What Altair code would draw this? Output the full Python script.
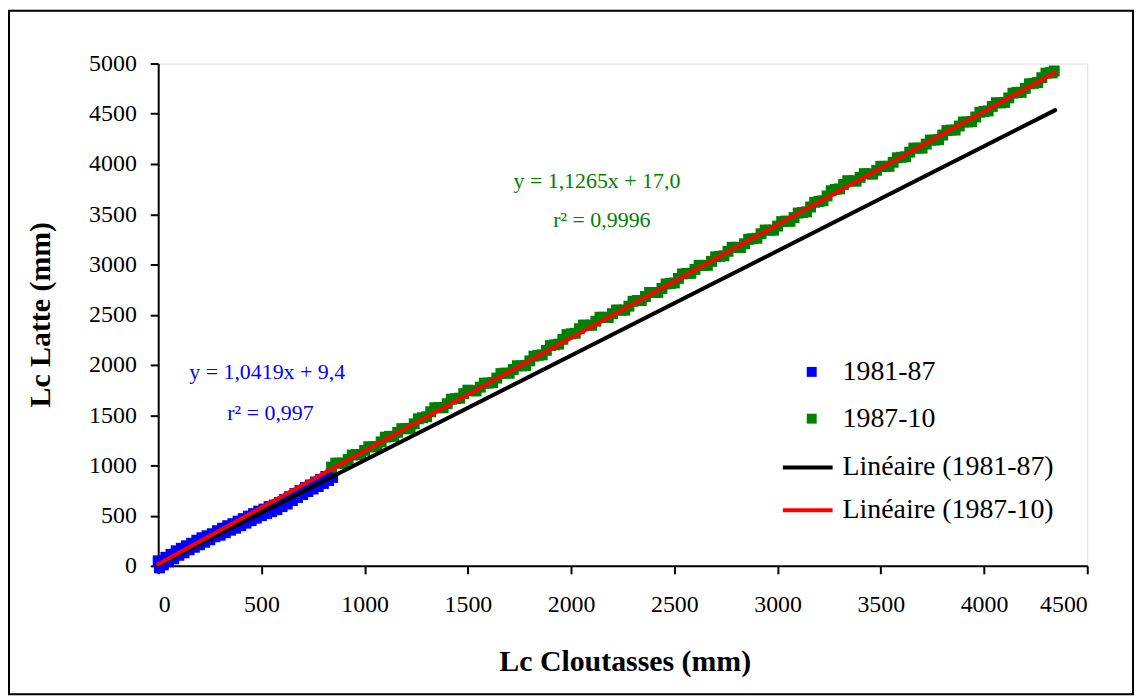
import altair as alt
import pandas as pd

# ---- data ----
blue_x = [0, 6, 12, 25, 37, 50, 62, 75, 87, 100, 112, 125, 137, 150, 162, 175, 187, 200,
          212, 225, 237, 250, 262, 275, 287, 300, 312, 325, 337, 350, 362, 375, 387, 400,
          412, 425, 437, 450, 462, 475, 487, 500, 512, 525, 537, 550, 562, 575, 587, 600,
          612, 625, 637, 650, 662, 675, 687, 700, 712, 725, 737, 750, 762, 775, 787, 800,
          812, 825, 837, 845]
blue_y = [50, -20, 40, 10, 85, 40, 115, 70, 150, 105, 175, 130, 200, 160, 225, 185, 255, 210,
          280, 235, 300, 260, 320, 290, 350, 305, 375, 330, 400, 355, 420, 375, 445, 400,
          470, 425, 495, 450, 520, 475, 545, 500, 565, 520, 590, 540, 605, 560, 630, 590,
          660, 615, 690, 650, 720, 680, 750, 710, 780, 740, 805, 765, 835, 790, 860, 820,
          890, 850, 915, 880]

green_x = [840, 880, 920, 960, 1000, 1040, 1080, 1120, 1160, 1200, 1240, 1280, 1320, 1360,
           1400, 1440, 1480, 1520, 1560, 1600, 1640, 1680, 1720, 1760, 1800, 1840, 1880,
           1920, 1960, 2000, 2040, 2080, 2120, 2160, 2200, 2240, 2280, 2320, 2360, 2400,
           2440, 2480, 2520, 2560, 2600, 2640, 2680, 2720, 2760, 2800, 2840, 2880, 2920,
           2960, 3000, 3040, 3080, 3120, 3160, 3200, 3240, 3280, 3320, 3360, 3400, 3440,
           3480, 3520, 3560, 3600, 3640, 3680, 3720, 3760, 3800, 3840, 3880, 3920, 3960,
           4000, 4040, 4080, 4120, 4160, 4200, 4240, 4280, 4320, 4340,
           860, 900, 940, 980, 1020, 1060, 1100, 1140, 1180, 1220, 1260, 1300, 1340, 1380,
           1420, 1460, 1500, 1540, 1580, 1620, 1660, 1700, 1740, 1780, 1820, 1860, 1900,
           1940, 1980, 2020, 2060, 2100, 2140, 2180, 2220, 2260, 2300, 2340, 2380, 2420,
           2460, 2500, 2540, 2580, 2620, 2660, 2700, 2740, 2780, 2820, 2860, 2900, 2940,
           2980, 3020, 3060, 3100, 3140, 3180, 3220, 3260, 3300, 3340, 3380, 3420, 3460,
           3500, 3540, 3580, 3620, 3660, 3700, 3740, 3780, 3820, 3860, 3900, 3940, 3980,
           4020, 4060, 4100, 4140, 4180, 4220, 4260, 4300, 4330]
green_y = [983, 1023, 1058, 1108, 1149, 1184, 1234, 1289, 1329, 1364, 1414, 1474, 1534, 1574,
           1614, 1664, 1714, 1744, 1779, 1819, 1869, 1919, 1955, 1990, 2040, 2095, 2145,
           2200, 2255, 2310, 2360, 2395, 2435, 2475, 2510, 2545, 2585, 2641, 2681, 2721,
           2761, 2811, 2861, 2911, 2951, 2991, 3031, 3081, 3131, 3171, 3206, 3256, 3306,
           3341, 3382, 3432, 3467, 3517, 3572, 3627, 3682, 3747, 3797, 3832, 3867, 3902,
           3937, 3977, 4017, 4067, 4118, 4158, 4198, 4238, 4288, 4338, 4378, 4418, 4468,
           4523, 4573, 4608, 4658, 4713, 4753, 4803, 4859, 4909, 4926,
           1023, 1020, 1103, 1108, 1186, 1189, 1281, 1289, 1366, 1369, 1464, 1484, 1574, 1574,
           1659, 1669, 1749, 1741, 1819, 1824, 1914, 1917, 1992, 1995, 2087, 2100, 2192,
           2207, 2302, 2315, 2397, 2395, 2475, 2472, 2547, 2545, 2633, 2641, 2721, 2721,
           2806, 2816, 2906, 2911, 2991, 2991, 3076, 3086, 3171, 3168, 3251, 3261, 3343,
           3341, 3427, 3429, 3512, 3524, 3619, 3634, 3734, 3752, 3834, 3829, 3904, 3899,
           3977, 3977, 4062, 4072, 4158, 4158, 4238, 4243, 4333, 4338, 4418, 4423, 4515,
           4528, 4610, 4613, 4705, 4713, 4798, 4811, 4904, 4907]

series_names = ["1981-87", "1987-10"]
series_colors = ["#0000FF", "#008000"]
fit_names = ["Linéaire (1981-87)", "Linéaire (1987-10)"]
fit_colors = ["#000000", "#FF0000"]
fit_slope = [1.0419, 1.1265]
fit_intercept = [9.4, 17.0]
fit_x_range = [0, 4345]

eq_text = ["y = 1,0419x + 9,4", "r² = 0,997", "y = 1,1265x + 17,0", "r² = 0,9996"]
eq_x = [528, 544, 2125, 2149]
eq_y = [1931, 1525, 3832, 3446]
eq_series = ["1981-87", "1981-87", "1987-10", "1987-10"]

x_ticks = [0, 500, 1000, 1500, 2000, 2500, 3000, 3500, 4000, 4500]
y_ticks = [0, 500, 1000, 1500, 2000, 2500, 3000, 3500, 4000, 4500, 5000]

# ---- tables ----
pts = pd.DataFrame({
    "x": blue_x + green_x,
    "y": blue_y + green_y,
    "series": [series_names[0]] * len(blue_x) + [series_names[1]] * len(green_x),
})
fit_rows = []
for name, a, b in zip(fit_names, fit_slope, fit_intercept):
    for xv in fit_x_range:
        fit_rows.append({"x": xv, "y": a * xv + b, "fit": name})
fits = pd.DataFrame(fit_rows)
eqs = pd.DataFrame({"x": eq_x, "y": eq_y, "text": eq_text, "series": eq_series})

FONT = "Liberation Serif"
x_scale = alt.Scale(domain=[0, 4500], nice=False, zero=False)
y_scale = alt.Scale(domain=[0, 5000], nice=False, zero=False)

x_axis = alt.Axis(values=x_ticks, format="d", grid=False, tickSize=8, tickWidth=2,
                  tickColor="black", domainColor="black", domainWidth=2,
                  labelFont=FONT, labelFontSize=24, labelColor="black", labelPadding=19,
                  titleFont=FONT, titleFontSize=30, titleFontWeight="bold",
                  titleColor="black", titleX=469, titleY=96, titleBaseline="middle")
y_axis = alt.Axis(values=y_ticks, format="d", grid=False, tickSize=8, tickWidth=2,
                  tickColor="black", domainColor="black", domainWidth=2,
                  labelFont=FONT, labelFontSize=24, labelColor="black", labelPadding=14,
                  titleFont=FONT, titleFontSize=30, titleFontWeight="bold",
                  titleColor="black", titleX=-118, titleY=252, titleBaseline="middle",
                  titleAngle=270)

points = alt.Chart(pts).mark_square(size=121, opacity=1, filled=True).encode(
    x=alt.X("x:Q", scale=x_scale, axis=x_axis, title="Lc Cloutasses (mm)"),
    y=alt.Y("y:Q", scale=y_scale, axis=y_axis, title="Lc Latte (mm)"),
    color=alt.Color("series:N",
                    scale=alt.Scale(domain=series_names, range=series_colors),
                    legend=alt.Legend(title=None, orient="none", legendX=643, legendY=296,
                                      symbolType="square", symbolSize=100,
                                      symbolStrokeWidth=0, labelFont=FONT,
                                      labelFontSize=28, labelColor="black",
                                      labelOffset=17, rowPadding=19, padding=0,
                                      labelLimit=400)),
)

lines = alt.Chart(fits).mark_line(strokeWidth=4, strokeCap="round").encode(
    x=alt.X("x:Q", scale=x_scale),
    y=alt.Y("y:Q", scale=y_scale),
    color=alt.Color("fit:N",
                    scale=alt.Scale(domain=fit_names, range=fit_colors),
                    legend=alt.Legend(title=None, orient="none", legendX=626, legendY=379,
                                      symbolType="stroke", symbolSize=2500,
                                      symbolStrokeWidth=4, labelFont=FONT,
                                      labelFontSize=28, labelColor="black",
                                      labelOffset=8, rowPadding=2, padding=0,
                                      labelLimit=400)),
    detail="fit:N",
)

text_blue = alt.Chart(eqs[eqs["series"] == series_names[0]]).mark_text(
    font=FONT, fontSize=22, color=series_colors[0], align="center", baseline="middle"
).encode(x=alt.X("x:Q", scale=x_scale), y=alt.Y("y:Q", scale=y_scale), text="text:N")

text_green = alt.Chart(eqs[eqs["series"] == series_names[1]]).mark_text(
    font=FONT, fontSize=22, color=series_colors[1], align="center", baseline="middle"
).encode(x=alt.X("x:Q", scale=x_scale), y=alt.Y("y:Q", scale=y_scale), text="text:N")

border = alt.Chart(pd.DataFrame({"k": [0]})).mark_rect(
    fillOpacity=0, stroke="black", strokeWidth=2
).encode(x=alt.value(-150), x2=alt.value(980), y=alt.value(-53), y2=alt.value(634))

chart = alt.layer(border, points, lines, text_blue, text_green).resolve_scale(
    color="independent"
).properties(
    width=934, height=505,
    autosize=alt.AutoSizeParams(type="none"),
    padding={"left": 151, "top": 54, "right": 47, "bottom": 130},
).configure_view(stroke=None).configure(background="white")

chart.save("out.html", embed_options={"renderer": "svg", "actions": False})
